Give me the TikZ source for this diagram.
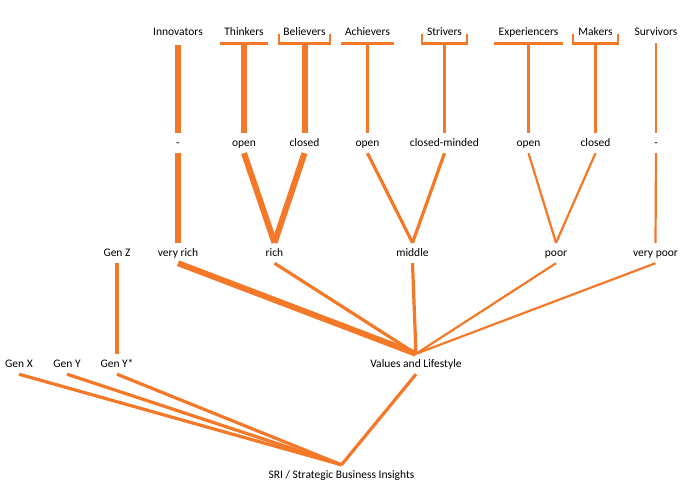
\documentclass[tikz,border=0pt]{standalone}
\usepackage{fontspec}
\setmainfont{Carlito}
\usetikzlibrary{calc}
\definecolor{org}{RGB}{243,120,40}
\begin{document}
\begin{tikzpicture}[x=1pt,y=-1pt,
  lbl/.style={font=\fontsize{11.5}{13}\selectfont, inner sep=0pt, minimum height=20pt, text height=8.5pt, text depth=1.5pt, anchor=center, text=black},
  toplbl/.style={lbl, minimum height=22pt},
  link/.style={draw=org, line cap=butt, line join=miter},
  wA/.style={link, line width=6pt},
  wB/.style={link, line width=3.2pt},
  wC/.style={link, line width=2.2pt},
  barline/.style={draw=org, line width=2.8pt, line cap=butt, line join=miter}]
\useasboundingbox (0,0) rectangle (690,484);
% top row
\node[toplbl] (inn) at (178,32) {Innovators};
\node[toplbl] (thk) at (244,32) {Thinkers};
\node[toplbl] (bel) at (304.5,32) {Believers};
\node[toplbl] (ach) at (367.5,32) {Achievers};
\node[toplbl] (str) at (444.5,32) {Strivers};
\node[toplbl] (exp) at (528.5,32) {Experiencers};
\node[toplbl] (mak) at (595.5,32) {Makers};
\node[toplbl] (sur) at (656,32) {Survivors};
% middle row
\node[lbl] (m1) at (178,143) {-};
\node[lbl] (m2) at (244,143) {open};
\node[lbl] (m3) at (304.5,143) {closed};
\node[lbl] (m4) at (367.5,143) {open};
\node[lbl] (m5) at (444.5,143) {closed-minded};
\node[lbl] (m6) at (528.5,143) {open};
\node[lbl] (m7) at (595.5,143) {closed};
\node[lbl] (m8) at (656,143) {-};
% income row
\node[lbl] (genz) at (117,253) {Gen Z};
\node[lbl] (vrich) at (178,253) {very rich};
\node[lbl] (rich) at (274.5,253) {rich};
\node[lbl] (mid) at (412.5,253) {middle};
\node[lbl] (poor) at (556,253) {poor};
\node[lbl] (vpoor) at (655.5,253) {very poor};
% bottom row
\node[lbl] (genx) at (19,364) {Gen X};
\node[lbl] (geny) at (67,364) {Gen Y};
\node[lbl] (genys) at (117,364) {Gen Y*};
\node[lbl] (val) at (416,364) {Values and Lifestyle};
\node[lbl] (sri) at (341.5,475) {SRI / Strategic Business Insights};
% brackets and bars
\draw[barline] ($(thk.south)+(-24,0)$) -- ($(thk.south)+(24,0)$);
\draw[barline] ($(bel.south)+(-25.5,-9)$) -- ++(0,9) -- ++(51,0) -- ++(0,-9);
\draw[barline] ($(ach.south)+(-26.5,0)$) -- ($(ach.south)+(26.5,0)$);
\draw[barline] ($(str.south)+(-22.5,-9)$) -- ++(0,9) -- ++(45,0) -- ++(0,-9);
\draw[barline] ($(exp.south)+(-34.5,0)$) -- ($(exp.south)+(34.5,0)$);
\draw[barline] ($(mak.south)+(-22.5,-9)$) -- ++(0,9) -- ++(45,0) -- ++(0,-9);
% top to middle
\draw[wA] ($(inn.south)+(0,2)$) -- (m1.north);
\draw[wA] ($(thk.south)+(0,1.4)$) -- (m2.north);
\draw[wA] ($(bel.south)+(0,1.4)$) -- (m3.north);
\draw[wB] ($(ach.south)+(0,1.4)$) -- (m4.north);
\draw[wB] ($(str.south)+(0,1.4)$) -- (m5.north);
\draw[wC] ($(exp.south)+(0,1.4)$) -- (m6.north);
\draw[wC] ($(mak.south)+(0,1.4)$) -- (m7.north);
\draw[wC] (sur.south) -- (m8.north);
% middle to income
\draw[wA] (m1.south) -- (vrich.north);
\draw[wA] (m2.south) -- (rich.north);
\draw[wA] (m3.south) -- (rich.north);
\draw[wB] (m4.south) -- (mid.north);
\draw[wB] (m5.south) -- (mid.north);
\draw[wC] (m6.south) -- (poor.north);
\draw[wC] (m7.south) -- (poor.north);
\draw[wC] (m8.south) -- (vpoor.north);
% income to values
\draw[wA] (vrich.south) -- (val.north);
\draw[wB] (rich.south) -- (val.north);
\draw[wB] (mid.south) -- (val.north);
\draw[wC] (poor.south) -- (val.north);
\draw[wC] (vpoor.south) -- (val.north);
\draw[wB] (genz.south) -- (genys.north);
% to SRI
\draw[wB] (genx.south) -- (sri.north);
\draw[wB] (geny.south) -- (sri.north);
\draw[wB] (genys.south) -- (sri.north);
\draw[wB] (val.south) -- (sri.north);
\end{tikzpicture}
\end{document}
